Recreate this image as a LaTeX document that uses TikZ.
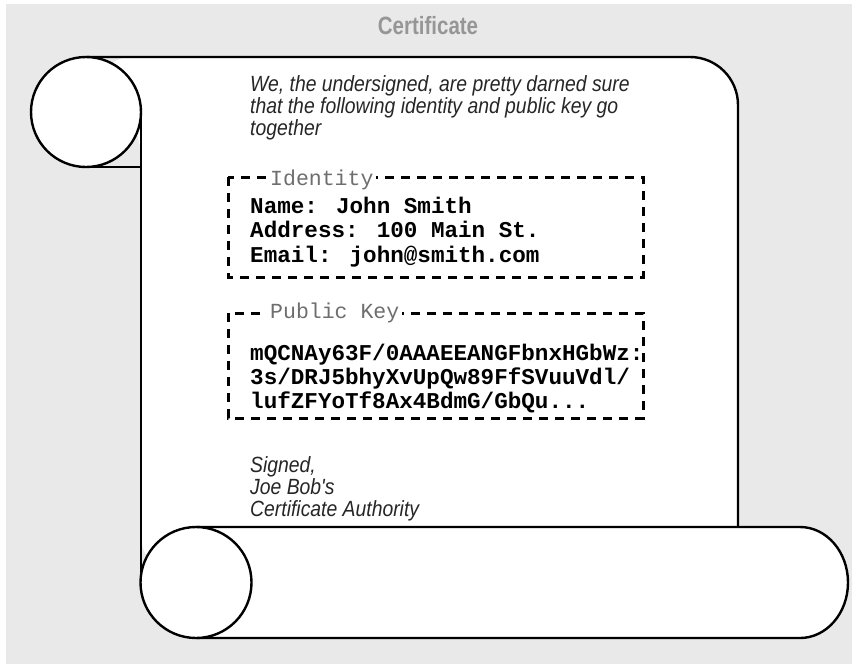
\documentclass[tikz,border=0pt]{standalone}
\usepackage{fontspec}
\setmainfont{Liberation Sans}
\newfontfamily\narrowfont[FakeStretch=0.88]{Liberation Sans}
\newfontfamily\titlefont[FakeStretch=0.82]{Liberation Sans}
\newfontfamily\codefont{Liberation Mono}
\definecolor{bggray}{RGB}{233,233,233}
\definecolor{titlegray}{RGB}{150,150,150}
\definecolor{labelgray}{RGB}{110,110,110}
\tikzset{
  outline/.style={line width=2.4pt, draw=black, line join=round},
  rollface/.style={outline, fill=white},
  dashbox/.style={line width=3pt, dash pattern=on 9pt off 7pt},
  prose/.style={anchor=base west, inner sep=0pt,
    font=\narrowfont\itshape\fontsize{22}{22}\selectfont, text=black!85},
  code/.style={anchor=base west, inner sep=0pt,
    font=\codefont\bfseries\fontsize{22.6}{24}\selectfont},
  boxlabel/.style={anchor=base west, fill=white, inner xsep=3pt, inner ysep=1pt,
    font=\codefont\fontsize{21.5}{22}\selectfont, text=labelgray},
}
\begin{document}
\begin{tikzpicture}[x=1pt, y=-1pt]
  \useasboundingbox (0,0) rectangle (856,667);
  % backdrop
  \fill[white] (0,0) rectangle (856,667);
  \fill[bggray] (6,4) rectangle (852,664);

  \node[anchor=base, inner sep=0pt, text=titlegray,
        font=\titlefont\bfseries\fontsize{25}{25}\selectfont] (title) at (428,34) {Certificate};

  % the sheet of the scroll
  \fill[white, rounded corners=48] (86,57) -- (738,57) -- (738,582) -- (141,582) -- (141,112) -- cycle;
  \coordinate (sheetL) at (86,57);
  \coordinate (sheetR) at (738,527);
  \draw[outline, rounded corners=48] (sheetL) -- (738,57) -- (sheetR);
  \draw[outline] (141,112) -- (141,582);
  \draw[outline] (86,167) -- (141,167);

  % top roll
  \node[circle, rollface, minimum size=110pt, inner sep=0pt] (toproll) at (86,112) {};

  % bottom roll
  \draw[rollface] (196,527) -- (800,527)
    arc[start angle=270, end angle=450, x radius=48, y radius=55.5]
    -- (196,638);
  \node[circle, rollface, minimum size=111pt, inner sep=0pt] (botroll) at (196,582.5) {};

  % opening statement
  \node[prose] (p1) at (250,91)  {We, the undersigned, are pretty darned sure};
  \node[prose] (p2) at (250,113) {that the following identity and public key go};
  \node[prose] (p3) at (250,135) {together};

  % identity box
  \draw[dashbox] (228,177) rectangle (643,277);
  \node[boxlabel] (idlabel) at (267,185) {Identity};
  \node[code] (id1) at (250,213) {Name: John Smith};
  \node[code] (id2) at (250,237.5) {Address: 100 Main St.};
  \node[code] (id3) at (250,262) {Email: john@smith.com};

  % public key box
  \draw[dashbox] (228,313) rectangle (643,418);
  \node[boxlabel] (pklabel) at (267,318) {Public Key};
  \node[code] (pk1) at (250,360) {mQCNAy63F/0AAAEEANGFbnxHGbWz:};
  \node[code] (pk2) at (250,384) {3s/DRJ5bhyXvUpQw89FfSVuuVdl/};
  \node[code] (pk3) at (250,408) {lufZFYoTf8Ax4BdmG/GbQu...};

  % signature
  \node[prose] (s1) at (250,472) {Signed,};
  \node[prose] (s2) at (250,494) {Joe Bob's};
  \node[prose] (s3) at (250,516) {Certificate Authority};
\end{tikzpicture}
\end{document}
